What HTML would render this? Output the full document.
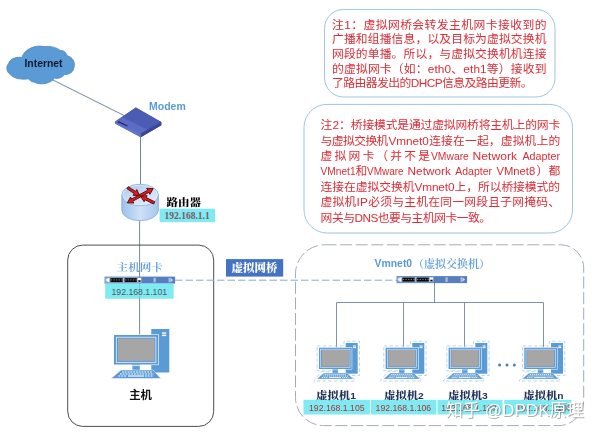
<!DOCTYPE html>
<html lang="zh-CN">
<head>
<meta charset="utf-8">
<title>VMware 桥接模式</title>
<style>
html,body{margin:0;padding:0;background:#fff;}
body{width:600px;height:435px;overflow:hidden;position:relative;}
svg{position:absolute;left:0;top:0;display:block;filter:blur(0.4px);}
text{text-spacing-trim:space-all;white-space:pre;}
.sans{font-family:"Liberation Sans","Noto Sans CJK SC",sans-serif;}
.serif{font-family:"Liberation Sans","Noto Serif CJK SC",serif;}
.note{font-family:"Liberation Sans","Noto Sans CJK SC",sans-serif;font-size:11.8px;font-weight:400;fill:#de2c35;}
.ip{font-family:"Liberation Sans",sans-serif;font-size:8.7px;}
</style>
</head>
<body>
<svg width="600" height="435" viewBox="0 0 600 435">
<defs>
  <symbol id="pc" overflow="visible">
    <rect x="37.3" y="-6" width="18" height="43.5" fill="#5b9bd5"/>
    <rect x="48" y="-2.6" width="4.2" height="1.4" fill="#fff"/>
    <rect x="48" y="-0.3" width="4.2" height="1.4" fill="#fff"/>
    <rect x="-0.6" y="-0.6" width="45.4" height="30.7" fill="#fff"/>
    <rect x="0" y="0" width="44.2" height="29.5" fill="#5b9bd5"/>
    <rect x="2.3" y="2.2" width="39.6" height="25.1" fill="none" stroke="#fff" stroke-width="0.7"/>
    <rect x="4" y="3.6" width="36.6" height="22.3" fill="#a6a6a6"/>
    <rect x="18.4" y="29.5" width="7.4" height="5.5" fill="#5b9bd5"/>
    <rect x="18.4" y="30.3" width="7.4" height="0.8" fill="#fff"/>
    <polygon points="7,35 39,35 47,43.5 -3,43.5" fill="#5b9bd5" stroke="#fff" stroke-width="0.5"/>
    <g stroke="#fff" stroke-width="1.1" stroke-dasharray="1.8,1" fill="none">
      <line x1="8" y1="37" x2="38" y2="37"/>
      <line x1="6" y1="39" x2="40" y2="39"/>
      <line x1="4.5" y1="41" x2="13" y2="41"/>
      <line x1="31" y1="41" x2="39.5" y2="41"/>
    </g>
    <line x1="14" y1="41" x2="30" y2="41" stroke="#fff" stroke-width="1.1"/>
  </symbol>
  <symbol id="vm" overflow="visible">
    <path d="M-1.8,-1.8 H24.9 V-6.5 H40.5 V27.8 H32.4 L36.2,33.3 H-5.2 L2,24 H11.8 V23.1 H-1.8 Z" fill="none" stroke="#a9cbea" stroke-width="0.8" stroke-dasharray="3.5,2.2"/>
    <rect x="26.7" y="-4.7" width="12" height="30.7" fill="#5b9bd5"/>
    <rect x="34" y="-2.2" width="3" height="1" fill="#fff"/>
    <rect x="34" y="-0.6" width="3" height="1" fill="#fff"/>
    <rect x="-0.5" y="-0.5" width="33.7" height="22.3" fill="#fff"/>
    <rect x="0" y="0" width="32.7" height="21.3" fill="#5b9bd5"/>
    <rect x="1.7" y="1.5" width="29.3" height="18.3" fill="none" stroke="#fff" stroke-width="0.5"/>
    <rect x="2.8" y="2.3" width="27.1" height="16.5" fill="#a6a6a6"/>
    <rect x="13.5" y="21.3" width="5.4" height="4" fill="#5b9bd5"/>
    <rect x="13.5" y="21.9" width="5.4" height="0.6" fill="#fff"/>
    <polygon points="4.7,25.4 28.2,25.4 34.3,31.4 -2.3,31.4" fill="#5b9bd5" stroke="#fff" stroke-width="0.4"/>
    <g stroke="#fff" stroke-width="0.8" stroke-dasharray="1.3,0.7" fill="none">
      <line x1="5.5" y1="26.9" x2="27.5" y2="26.9"/>
      <line x1="4" y1="28.3" x2="29" y2="28.3"/>
      <line x1="2.8" y1="29.8" x2="9" y2="29.8"/>
      <line x1="23" y1="29.8" x2="29.6" y2="29.8"/>
    </g>
    <line x1="10" y1="29.8" x2="22" y2="29.8" stroke="#fff" stroke-width="0.8"/>
  </symbol>
  <symbol id="nic" overflow="visible">
    <rect x="0" y="0" width="70.5" height="7" fill="#557fc0"/>
    <rect x="0.7" y="0.8" width="36.3" height="5.4" fill="#9fb4d6"/>
    <polygon points="1,3.5 4.6,1.1 4.6,5.9" fill="#fff"/>
    <rect x="5.8" y="1.5" width="12.2" height="4" fill="#0b0b0b"/>
    <rect x="20" y="1.5" width="12.2" height="4" fill="#0b0b0b"/>
    <g stroke="#dfe6f2" stroke-width="0.55" stroke-dasharray="1.3,1.3">
      <line x1="6.3" y1="3.3" x2="17.8" y2="3.3"/>
      <line x1="20.5" y1="3.3" x2="32" y2="3.3"/>
    </g>
    <rect x="33.2" y="1.5" width="3.2" height="2" fill="#fff"/>
    <rect x="33.9" y="3.7" width="1.9" height="1.5" fill="#0b0b0b"/>
    <rect x="48.9" y="1.2" width="2.2" height="4.6" fill="#a9c1e4"/>
    <rect x="64" y="1.2" width="1.4" height="4.6" fill="#a9c1e4"/>
    <polygon points="65.8,1.2 68.6,3.5 65.8,5.8" fill="#c4d5ee"/>
  </symbol>
</defs>

<!-- connection lines -->
<g stroke="#6f86a6" stroke-width="1" fill="none">
  <line x1="52" y1="79.5" x2="124" y2="115.5"/>
  <line x1="140.5" y1="136" x2="140.5" y2="185"/>
  <line x1="139.6" y1="220" x2="139.6" y2="336" stroke="#7b8797"/>
</g>

<!-- cloud -->
<path d="M22,57.5 C24,49 36,44.5 44,46.6 C50,45.8 57,47.5 60.5,50.6 C63.5,50 66.5,52.5 66.8,55.6 C72.5,57 75.6,62 74,67.5 C73.5,72 69,74.8 64.5,74.6 C62,78 57.5,79 54.5,78 C51,83.5 41,85.5 34.5,82.3 C31,81.7 29.5,80.3 28.5,78.8 C22,80 13.5,78.5 10.2,74.5 C6.3,71.5 5.8,66.5 8.6,63.5 C9.5,59.5 15,56.5 22,57.5 Z" fill="#5b9bd5" stroke="#4a86c4" stroke-width="0.8"/>
<text x="43.5" y="67.3" text-anchor="middle" class="sans" font-size="10.4" font-weight="bold" fill="#0c1a33">Internet</text>

<!-- modem -->
<g>
  <polygon points="115,121.7 135.8,107.5 161.3,122 161.3,125.3 140.8,137.2 115,123.4" fill="#3f4d9e"/>
  <polygon points="115,121.7 135.8,107.5 161.3,122 140.8,133.4" fill="#4c5cb3"/>
  <polygon points="115,121.7 122,117 147.5,129.7 140.8,133.4" fill="#5b6cc4"/>
  <polygon points="140.8,133.4 161.3,122 161.3,125.3 140.8,137.2" fill="#3a4795"/>
  <polygon points="115,121.7 140.8,133.4 140.8,137.2 115,123.4" fill="#6274cc"/>
  <line x1="118" y1="121.6" x2="127.5" y2="126" stroke="#1f2a6b" stroke-width="1.2"/>
</g>
<text x="149" y="109.8" class="sans" font-size="10.5" font-weight="bold" fill="#5b9bd5">Modem</text>

<!-- router -->
<defs>
  <linearGradient id="rside" x1="0" x2="1" y1="0" y2="0">
    <stop offset="0" stop-color="#9cc1ec"/><stop offset="0.5" stop-color="#cfe1f6"/><stop offset="1" stop-color="#a6c7ed"/>
  </linearGradient>
  <linearGradient id="rtop" x1="0.1" x2="0.8" y1="0" y2="1">
    <stop offset="0" stop-color="#aecbee"/><stop offset="1" stop-color="#e3eefa"/>
  </linearGradient>
</defs>
<g>
  <path d="M121.8,195 V210 A18.3,10.7 0 0 0 158.4,210 V195 Z" fill="url(#rside)" stroke="#7fa9da" stroke-width="0.8"/>
  <ellipse cx="140.1" cy="195" rx="18.3" ry="10.7" fill="url(#rtop)" stroke="#7fa9da" stroke-width="0.8"/>
  <ellipse cx="140.1" cy="195" rx="17.3" ry="9.8" fill="none" stroke="#eef4fc" stroke-width="0.6"/>
  <g stroke="#4a0808" stroke-width="0.9" stroke-linejoin="round" fill="#e01b1b">
    <polygon points="126.9,188.7 134.2,193.5 133.1,195.3 139.6,195.5 136.8,189.6 135.6,191.4 128.3,186.7"/>
    <polygon points="154.8,201.8 146.2,197.6 147.1,195.6 140.6,196.2 144.1,201.7 145.1,199.8 153.6,204.0"/>
    <polygon points="140.6,196.9 148.9,192.4 149.9,194.3 153.2,188.6 146.7,188.3 147.7,190.2 139.4,194.7"/>
    <polygon points="139.4,194.7 131.6,199.0 130.6,197.1 127.3,202.8 133.8,203.1 132.8,201.2 140.6,196.9"/>
  </g>
</g>
<text transform="translate(166.4,206.2) scale(1,0.9)" class="serif" font-size="11.5" font-weight="900" fill="#000">路由器</text>
<rect x="159.6" y="208.7" width="55.4" height="13.4" fill="#7eeaf2"/>
<text x="187.1" y="218.7" text-anchor="middle" font-family="'Liberation Serif',serif" font-weight="bold" fill="#7d5560" font-size="9.5">192.168.1.1</text>

<!-- host box -->
<rect x="67.7" y="245.1" width="146" height="181.3" rx="15" ry="15" fill="none" stroke="#4d4d4d" stroke-width="1"/>
<text transform="translate(116.6,270.7) scale(1,0.9)" class="serif" font-size="11.6" font-weight="600" fill="#5b9bd5">主机网卡</text>
<use href="#nic" x="104.6" y="276.6"/>
<rect x="105.2" y="283.6" width="68.4" height="15.1" fill="#7eeaf2"/>
<text x="139.3" y="294.6" text-anchor="middle" class="ip" fill="#4a5a5e">192.168.1.101</text>
<line x1="139.6" y1="283.8" x2="139.6" y2="299" stroke="#667386" stroke-opacity="0.3"/>
<use href="#pc" x="114" y="335"/>
<text x="140.6" y="399.3" text-anchor="middle" class="sans" font-size="11.4" font-weight="bold" fill="#111">主机</text>

<!-- bridge label -->
<rect x="226" y="259.1" width="57.2" height="17.5" fill="#4472c4"/>
<text x="254.5" y="272.1" text-anchor="middle" class="serif" font-size="11.5" font-weight="900" fill="#fff">虚拟网桥</text>

<!-- dashed bridge line -->
<line x1="175" y1="280.2" x2="397" y2="280.2" stroke="#8ea9cc" stroke-width="1" stroke-dasharray="7.5,3"/>

<!-- virtual network dashed box -->
<path d="M324.5,244.8 H560.7 A23,23 0 0 1 583.7,267.8 V400.6 A25,25 0 0 1 558.7,425.6 H323.5 A28,28 0 0 1 295.5,397.6 V273.8 A29,29 0 0 1 324.5,244.8 Z" fill="none" stroke="#a1adbc" stroke-width="1" stroke-dasharray="12,3.6"/>

<!-- switch -->
<text x="374.6" y="267.4" class="sans" font-size="10.4" font-weight="bold" fill="#5b9bd5">Vmnet0</text>
<text x="413" y="267.6" class="serif" font-size="11" font-weight="600" fill="#5b9bd5">（虚拟交换机）</text>
<use href="#nic" x="396.6" y="276.1"/>
<g stroke="#7187a6" stroke-width="0.9" fill="none">
  <path d="M434.5,283 V302.5"/>
  <path d="M336.5,347.5 V302.5 H543.5 V347.5"/>
  <path d="M403.5,302.5 V347.5"/>
  <path d="M464.5,302.5 V347.5"/>
</g>

<!-- VMs -->
<use href="#vm" x="319" y="347.7"/>
<use href="#vm" x="385.6" y="347.7"/>
<use href="#vm" x="448.6" y="347.7"/>
<use href="#vm" x="524.3" y="347.7"/>
<g fill="#4a7ebb">
  <circle cx="499.6" cy="365" r="1.5"/><circle cx="507" cy="365" r="1.5"/><circle cx="514.3" cy="365" r="1.5"/>
</g>
<g fill="#7eeaf2">
  <rect x="303.5" y="399.8" width="66.4" height="14.7"/>
  <rect x="371" y="399.8" width="65.4" height="14.7"/>
  <rect x="437.5" y="399.8" width="65" height="14.7"/>
  <rect x="504.3" y="399.8" width="67.2" height="14.7"/>
</g>
<g class="serif" font-size="11.3" font-weight="900" fill="#22335a">
  <text transform="translate(316.3,399.4) scale(1,0.92)">虚拟机<tspan class="sans" font-size="10.3" font-weight="bold">1</tspan></text>
  <text transform="translate(384.2,399.4) scale(1,0.92)">虚拟机<tspan class="sans" font-size="10.3" font-weight="bold">2</tspan></text>
  <text transform="translate(448.2,399.4) scale(1,0.92)">虚拟机<tspan class="sans" font-size="10.3" font-weight="bold">3</tspan></text>
  <text transform="translate(523.4,399.4) scale(1,0.92)">虚拟机<tspan class="sans" font-size="10.3" font-weight="bold">n</tspan></text>
</g>
<g class="ip" fill="#ab3434" text-anchor="middle">
  <text x="336.8" y="410.6">192.168.1.105</text>
  <text x="403.4" y="410.6">192.168.1.106</text>
  <text x="469" y="410.6">192.168.1.107</text>
  <text x="544" y="410.6">192.168.1.108</text>
</g>

<!-- note 1 -->
<rect x="324.6" y="9.4" width="230.4" height="87.6" rx="19" ry="19" fill="#fff" stroke="#9dc3e6" stroke-width="1"/>
<g class="note">
  <text x="332" y="28.6" textLength="214.5" lengthAdjust="spacing">注1：虚拟网桥会转发主机网卡接收到的</text>
  <text x="332" y="43.3" textLength="214.5" lengthAdjust="spacing">广播和组播信息，以及目标为虚拟交换机</text>
  <text x="332" y="57.9" textLength="214.5" lengthAdjust="spacing">网段的单播。所以，与虚拟交换机机连接</text>
  <text x="332" y="72.6" textLength="214.5" lengthAdjust="spacing">的虚拟网卡（如：eth0、eth1等）接收到</text>
  <text x="332" y="87.2" textLength="200.5" lengthAdjust="spacing">了路由器发出的DHCP信息及路由更新。</text>
</g>

<!-- note 2 -->
<rect x="304" y="104.4" width="268.5" height="128.6" rx="23" ry="23" fill="#fff" stroke="#9dc3e6" stroke-width="1"/>
<g class="note">
  <text x="320.6" y="129.2">注2：</text>
  <text x="350.8" y="129.2" textLength="209.4" lengthAdjust="spacing">桥接模式是通过虚拟网桥将主机上的网卡</text>
  <text x="320.6" y="144.6" textLength="67.8" lengthAdjust="spacing">与虚拟交换机</text>
  <text x="388.4" y="144.6" textLength="40.4" lengthAdjust="spacingAndGlyphs">Vmnet0</text>
  <text x="429.2" y="144.6" textLength="131" lengthAdjust="spacing">连接在一起，虚拟机上的</text>
  <text x="320.6" y="160" textLength="109.4" lengthAdjust="spacing">虚拟网卡（并不是</text>
  <text x="431" y="160" textLength="37.8" lengthAdjust="spacingAndGlyphs">VMware</text>
  <text x="472.6" y="160" textLength="44.4" lengthAdjust="spacingAndGlyphs">Network</text>
  <text x="522.4" y="160" textLength="37.6" lengthAdjust="spacingAndGlyphs">Adapter</text>
  <text x="320.6" y="175.4" textLength="35" lengthAdjust="spacingAndGlyphs">VMnet1</text>
  <text x="355.4" y="175.4">和</text>
  <text x="367" y="175.4" textLength="36.6" lengthAdjust="spacingAndGlyphs">VMware</text>
  <text x="407.6" y="175.4" textLength="43.2" lengthAdjust="spacingAndGlyphs">Network</text>
  <text x="455.2" y="175.4" textLength="36.8" lengthAdjust="spacingAndGlyphs">Adapter</text>
  <text x="496.4" y="175.4" textLength="38.8" lengthAdjust="spacingAndGlyphs">VMnet8</text>
  <text x="536.6" y="175.4" textLength="23.6" lengthAdjust="spacing">）都</text>
  <text x="320.6" y="190.8" textLength="239.5" lengthAdjust="spacing">连接在虚拟交换机Vmnet0上，所以桥接模式的</text>
  <text x="320.6" y="206.2" textLength="239.5" lengthAdjust="spacing">虚拟机IP必须与主机在同一网段且子网掩码、</text>
  <text x="320.6" y="221.6" textLength="170.5" lengthAdjust="spacing">网关与DNS也要与主机网卡一致。</text>
</g>

<!-- watermark -->
<g class="sans" font-size="17.1">
  <text x="446.8" y="416.9" fill="#6f6f6f" fill-opacity="0.55">知乎 @DPDK原理</text>
  <text x="445.8" y="415.9" fill="#fff">知乎 @DPDK原理</text>
</g>
</svg>
</body>
</html>
